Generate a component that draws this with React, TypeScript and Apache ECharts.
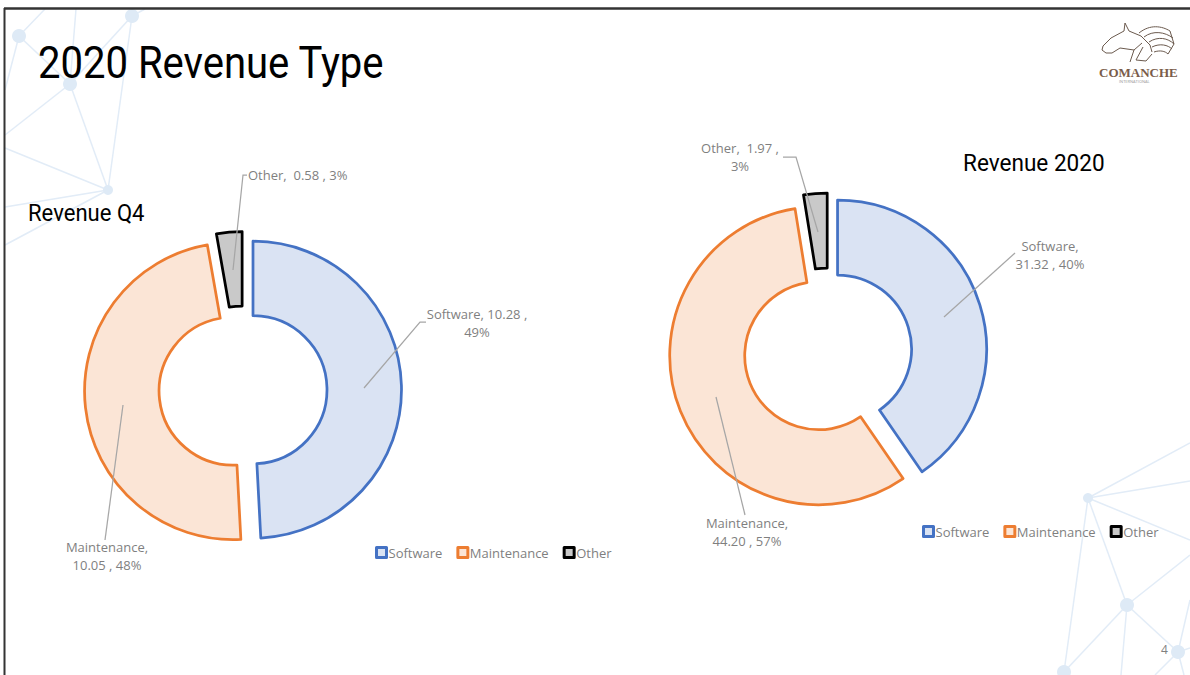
import React, { useEffect, useRef } from "react";
import * as echarts from "echarts";

const categories = ["Software", "Maintenance", "Other"];
const q4Values = [10.28, 10.05, 0.58];
const yearValues = [31.32, 44.2, 1.97];
const q4Percents = ["49%", "48%", "3%"];
const yearPercents = ["40%", "57%", "3%"];
const q4Amounts = ["10.28", "10.05", "0.58"];
const yearAmounts = ["31.32", "44.20", "1.97"];

const fills = ["#DAE3F3", "#FBE5D6", "#C9C9C9"];
const strokes = ["#4472C4", "#ED7D31", "#000000"];
const FONT = "'Open Sans', sans-serif";
const TITLE_FONT = "Roboto, sans-serif";
const GREY = "#7F7F7F";

const q4Text = (i: number) =>
  i === 0
    ? `${categories[0]}, ${q4Amounts[0]} ,\n${q4Percents[0]}`
    : i === 1
      ? `${categories[1]},\n${q4Amounts[1]} , ${q4Percents[1]}`
      : `${categories[2]},  ${q4Amounts[2]} , ${q4Percents[2]}`;
const yearText = (i: number) =>
  i === 0
    ? `${categories[0]},\n${yearAmounts[0]} , ${yearPercents[0]}`
    : i === 1
      ? `${categories[1]},\n${yearAmounts[1]} , ${yearPercents[1]}`
      : `${categories[2]},  ${yearAmounts[2]} ,\n${yearPercents[2]}`;

type Anchor = { x: number; y: number; align: string; line: number[][] };
const q4Anchors: Anchor[] = [
  { x: 477, y: 323, align: "center", line: [[364, 388], [420, 322], [426, 322]] },
  { x: 107, y: 556, align: "center", line: [[123, 405], [105, 540]] },
  { x: 248, y: 175, align: "left", line: [[233, 270], [243, 175], [247, 175]] },
];
const yearAnchors: Anchor[] = [
  { x: 1050, y: 255, align: "center", line: [[944, 317], [1015, 253]] },
  { x: 747, y: 532, align: "center", line: [[716, 397], [745, 515]] },
  { x: 740, y: 157, align: "center", line: [[818, 232], [796, 157], [783, 157]] },
];

const networkNodes = [
  [19, 36, 7], [70, 84, 7], [132, 16, 7], [108, 190, 5],
  [1088, 498, 5], [1127, 605, 7], [1178, 652, 7], [1064, 672, 7],
];
const networkLines = [
  [19, 36, 70, 84], [19, 36, 45, 9], [19, 36, 5, 90], [132, 16, 70, 84], [132, 16, 108, 190],
  [132, 16, 145, 9], [76, 9, 70, 84], [70, 84, 108, 190], [70, 84, 5, 135], [108, 190, 5, 148],
  [108, 190, 5, 207], [108, 190, 5, 245],
  [1088, 498, 1190, 443], [1088, 498, 1190, 481], [1088, 498, 1190, 540], [1088, 498, 1127, 605],
  [1088, 498, 1064, 672], [1127, 605, 1190, 555], [1127, 605, 1178, 652], [1127, 605, 1064, 672],
  [1127, 605, 1121, 675], [1178, 652, 1190, 600], [1178, 652, 1155, 675], [1178, 652, 1190, 648],
  [1178, 652, 1184, 675],
];

const HORSE =
  "M1125 23 L1129 31 L1141 36 L1150 45 L1152 52 M1125 23 L1124 31 L1111 38 L1103 46 L1102 50 L1106 53 " +
  "L1112 53 L1120 48 L1134 50 L1142 43 M1134 50 L1130 62 M1143 47 L1136 60 L1146 61 L1152 54 " +
  "M1139 33 C1150 24 1162 26 1170 31 M1144 37 C1153 30 1165 32 1173 38 M1149 42 C1158 36 1168 38 1174 44 " +
  "M1152 47 C1160 43 1168 45 1172 49 M1154 52 C1160 50 1165 51 1168 54 M1170 31 L1174 44 L1168 54";

function makePie(name: string, values: number[], center: number[], outer: number) {
  return {
    type: "pie",
    name,
    center,
    radius: [74, outer],
    startAngle: 90,
    clockwise: true,
    selectedMode: "multiple",
    selectedOffset: 10,
    silent: true,
    data: categories.map((c, i) => ({
      name: c,
      value: values[i],
      selected: true,
      itemStyle: { color: fills[i], borderColor: strokes[i], borderWidth: 2.75 },
    })),
    label: { show: false },
    labelLine: { show: false },
  };
}

function leaderGraphics(anchors: Anchor[], text: (i: number) => string) {
  return anchors.flatMap((a, i) => [
    {
      type: "polyline",
      z: 20,
      shape: { points: a.line },
      style: { stroke: "#A6A6A6", lineWidth: 1.25, fill: "none" },
    },
    {
      type: "text",
      z: 20,
      x: a.x,
      y: a.y,
      style: {
        text: text(i),
        fontFamily: FONT,
        fontSize: 13,
        lineHeight: 18,
        fill: GREY,
        textAlign: a.align,
        textVerticalAlign: "middle",
      },
    },
  ]);
}

export default function App() {
  const ref = useRef<HTMLDivElement>(null);
  useEffect(() => {
    if (!ref.current) return;
    echarts.graphic.registerShape("horseLogo", echarts.graphic.extendPath(HORSE as any, {}) as any);
    const chart = echarts.init(ref.current, undefined, { renderer: "svg" });
    const legendBase = {
      orient: "horizontal",
      itemWidth: 10,
      itemHeight: 10,
      itemGap: 14,
      icon: "rect",
      itemStyle: { borderWidth: 3 },
      textStyle: { fontFamily: FONT, fontSize: 13, color: GREY, padding: [0, 0, 0, -3] },
      selectedMode: false,
      data: categories,
    };
    chart.setOption({
      animation: false,
      backgroundColor: "#FFFFFF",
      legend: [
        { ...legendBase, left: 370, top: 541 },
        { ...legendBase, left: 917, top: 520 },
      ],
      series: [
        makePie("Revenue Q4", q4Values, [243, 390], 148.5),
        makePie("Revenue 2020", yearValues, [828, 352], 149),
      ],
      graphic: [
        ...networkLines.map((l) => ({
          type: "line",
          z: -5,
          shape: { x1: l[0], y1: l[1], x2: l[2], y2: l[3] },
          style: { stroke: "#E2ECF7", lineWidth: 1.5 },
        })),
        ...networkNodes.map((n) => ({
          type: "circle",
          z: -4,
          shape: { cx: n[0], cy: n[1], r: n[2] },
          style: { fill: "#DEEAF6" },
        })),
        { type: "rect", z: -1, shape: { x: 0, y: 0, width: 1190, height: 7 }, style: { fill: "#FFFFFF" } },
        { type: "rect", z: -1, shape: { x: 0, y: 0, width: 3, height: 675 }, style: { fill: "#FFFFFF" } },
        { type: "line", shape: { x1: 4, y1: 8.5, x2: 1190, y2: 8.5 }, style: { stroke: "#333333", lineWidth: 2.5 } },
        { type: "line", shape: { x1: 4.5, y1: 8, x2: 4.5, y2: 675 }, style: { stroke: "#333333", lineWidth: 2 } },
        ...leaderGraphics(q4Anchors, q4Text),
        ...leaderGraphics(yearAnchors, yearText),
        {
          type: "text",
          x: 38,
          y: 41,
          scaleX: 0.91,
          style: { text: "2020 Revenue Type", fontFamily: TITLE_FONT, fontSize: 44, fill: "#000000", textVerticalAlign: "top" },
        },
        {
          type: "text",
          x: 28,
          y: 201,
          scaleX: 0.92,
          style: { text: "Revenue Q4", fontFamily: TITLE_FONT, fontSize: 24, fill: "#000000" },
        },
        {
          type: "text",
          x: 963,
          y: 151,
          scaleX: 0.94,
          style: { text: "Revenue 2020", fontFamily: TITLE_FONT, fontSize: 24, fill: "#000000" },
        },
        {
          type: "horseLogo",
          x: 0,
          y: 0,
          style: { fill: "none", stroke: "#6B5A4E", lineWidth: 1 },
        },
        {
          type: "text",
          x: 1099,
          y: 66,
          style: { text: "COMANCHE", fontFamily: "'Liberation Serif', serif", fontWeight: "bold", fontSize: 13, fill: "#7A5C4A" },
        },
        {
          type: "text",
          x: 1119,
          y: 79,
          style: { text: "INTERNATIONAL", fontFamily: FONT, fontSize: 4, fill: "#999999" },
        },
        {
          type: "text",
          x: 1161,
          y: 643,
          style: { text: "4", fontFamily: FONT, fontSize: 12, fill: "#808080" },
        },
      ],
    });
    return () => chart.dispose();
  }, []);
  return <div ref={ref} style={{ position: "absolute", left: 0, top: 0, width: 1190, height: 675 }} />;
}
